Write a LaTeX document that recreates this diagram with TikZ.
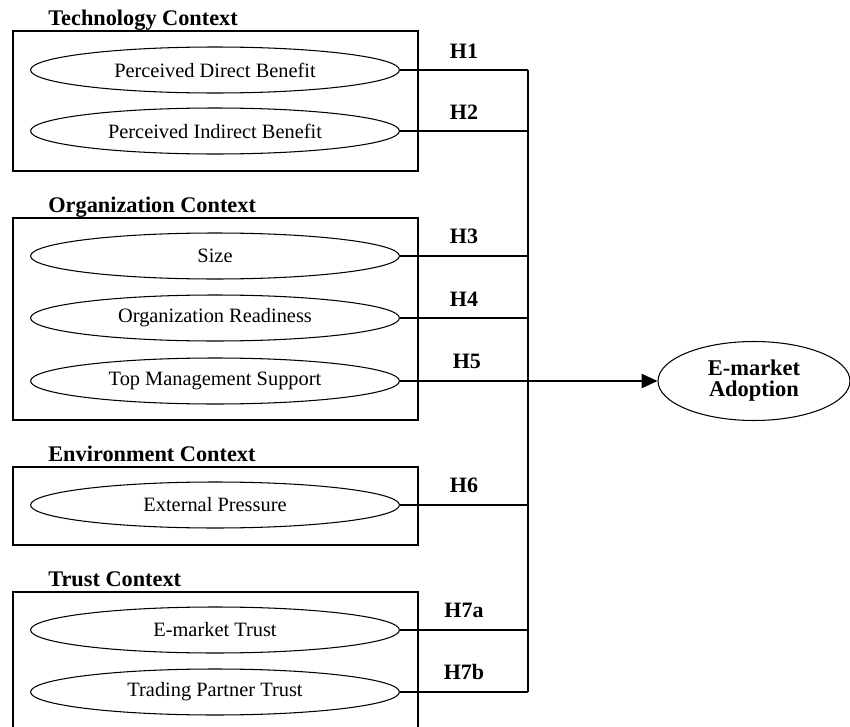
\documentclass[tikz,border=0pt]{standalone}
\usepackage{fontspec}
\setmainfont{Liberation Serif}
\usetikzlibrary{arrows.meta, calc, shapes.geometric}
\tikzset{%
    box/.style={line width = 0.9pt},
    ell/.style={ellipse, draw, line width = 0.6pt, minimum width=7.38cm, minimum height=0.92cm, inner sep=0pt, font=\fontsize{11.6}{13}\selectfont},
    hd/.style={anchor=base west, inner sep=0pt, font=\fontsize{12.7}{14}\selectfont\bfseries},
    lin/.style={line width = 1.1pt},
    lina/.style={line width = 1.1pt, -{Triangle[length=9pt, width=8pt]}},
    hyp/.style={above=0.22cm, inner sep=0pt, font=\fontsize{12.5}{14}\selectfont\bfseries},
}

\begin{document}
\begin{tikzpicture}[x=0.02cm, y=-0.02cm]
    \useasboundingbox (0,0) rectangle (850,727);
    \clip (0,0) rectangle (850,727);
    % context boxes
    \draw [box] (13,31) rectangle (418,171);
    \draw [box] (13,218) rectangle (418,420);
    \draw [box] (13,467) rectangle (418,545);
    \draw [box] (13,592) rectangle (418,760);
    \node[hd] (tech) at (48,25) {Technology Context};
    \node[hd] (org) at (48,212) {Organization Context};
    \node[hd] (env) at (48,461) {Environment Context};
    \node[hd] (tru) at (48,586) {Trust Context};
    % constructs
    \node[ell] (pdb) at (215,70) {Perceived Direct Benefit};
    \node[ell] (pib) at (215,131) {Perceived Indirect Benefit};
    \node[ell] (size) at (215,256) {Size};
    \node[ell] (ordy) at (215,318) {Organization Readiness};
    \node[ell] (tms) at (215,381) {Top Management Support};
    \node[ell] (ep) at (215,505) {External Pressure};
    \node[ell] (emt) at (215,630) {E-market Trust};
    \node[ell] (tpt) at (215,692) {Trading Partner Trust};
    \node[ellipse, draw, line width=0.6pt, minimum width=3.84cm, minimum height=1.58cm, inner sep=0pt, align=center,
          font=\fontsize{12.8}{12}\selectfont\bfseries] (adopt) at (754,381) {E-market\\Adoption};
    % hypotheses
    \coordinate (bus) at (528,0);
    \draw [lin] (pdb.east) -- (pdb.east -| bus) node[hyp,midway]{H1};
    \draw [lin] (pib.east) -- (pib.east -| bus) node[hyp,midway]{H2};
    \draw [lin] (size.east) -- (size.east -| bus) node[hyp,midway]{H3};
    \draw [lin] (ordy.east) -- (ordy.east -| bus) node[hyp,midway]{H4};
    \draw [lina] (tms.east) -- (adopt.west) node[hyp,pos=0.26]{H5};
    \draw [lin] (ep.east) -- (ep.east -| bus) node[hyp,midway]{H6};
    \draw [lin] (emt.east) -- (emt.east -| bus) node[hyp,midway]{H7a};
    \draw [lin] (tpt.east) -- (tpt.east -| bus) node[hyp,midway]{H7b};
    \draw [lin] (pdb.east -| bus) -- (tpt.east -| bus);
\end{tikzpicture}
\end{document}
